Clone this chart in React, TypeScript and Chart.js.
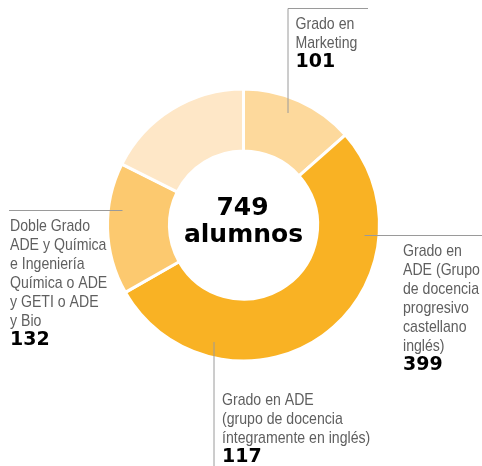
import React, { useEffect, useRef } from "react";
import { Chart, registerables } from "chart.js";

Chart.register(...registerables);

const categories = [
  "Grado en Marketing",
  "Grado en ADE (Grupo de docencia progresivo castellano inglés)",
  "Grado en ADE (grupo de docencia íntegramente en inglés)",
  "Doble Grado ADE y Química e Ingeniería Química o ADE y GETI o ADE y Bio",
];
const values = [101, 399, 117, 132];
const colors = ["#fdd99c", "#f9b224", "#fcc96f", "#fee7c7"];
const totalLabel = ["749", "alumnos"];

const labelLines1 = ["Grado en", "Marketing"];
const labelLines2 = ["Grado en", "ADE (Grupo", "de docencia", "progresivo", "castellano", "inglés)"];
const labelLines3 = ["Grado en ADE", "(grupo de docencia", "íntegramente en inglés)"];
const labelLines4 = ["Doble Grado", "ADE y Química", "e Ingeniería", "Química o ADE", "y GETI o ADE", "y Bio"];
const labelNumbers = ["101", "399", "117", "132"];

const TEXT_FONT = '17px "Liberation Sans", Arial, sans-serif';
const TEXT_SCALE_X = 0.83;
const NUM_FONT = 'bold 19px "DejaVu Sans", sans-serif';
const CENTER_FONT = 'bold 25px "DejaVu Sans", sans-serif';
const LINE_H = 19;

const annotationPlugin = {
  id: "annot",
  afterDraw(chart: any) {
    const ctx = chart.ctx as CanvasRenderingContext2D;
    const arc = chart.getDatasetMeta(0).data[0];
    const cx = arc.x;
    const cy = arc.y;
    ctx.save();
    // leader lines
    ctx.strokeStyle = "#9a9a9a";
    ctx.lineWidth = 1;
    ctx.beginPath();
    // top (Marketing)
    ctx.moveTo(cx + 44.5, cy - 112);
    ctx.lineTo(cx + 44.5, 8.5);
    ctx.lineTo(368, 8.5);
    // right
    ctx.moveTo(cx + 121, cy + 10.5);
    ctx.lineTo(482, cy + 10.5);
    // left
    ctx.moveTo(9, cy - 14.5);
    ctx.lineTo(cx - 121, cy - 14.5);
    // bottom
    ctx.moveTo(cx - 29.5, cy + 117);
    ctx.lineTo(cx - 29.5, 466);
    ctx.stroke();

    const drawBlock = (lines: string[], num: string, x: number, y0: number) => {
      ctx.textAlign = "left";
      ctx.textBaseline = "alphabetic";
      ctx.fillStyle = "#5f5f5f";
      ctx.font = TEXT_FONT;
      lines.forEach((l, i) => {
        ctx.save();
        ctx.translate(x, y0 + i * LINE_H);
        ctx.scale(TEXT_SCALE_X, 1);
        ctx.fillText(l, 0, 0);
        ctx.restore();
      });
      ctx.fillStyle = "#000";
      ctx.font = NUM_FONT;
      ctx.fillText(num, x, y0 + lines.length * LINE_H);
    };
    drawBlock(labelLines1, labelNumbers[0], cx + 52, 29);
    drawBlock(labelLines2, labelNumbers[1], 403, cy + 31);
    drawBlock(labelLines3, labelNumbers[2], cx - 21.5, cy + 180);
    drawBlock(labelLines4, labelNumbers[3], 10, cy + 6);

    // center text
    ctx.fillStyle = "#000";
    ctx.font = CENTER_FONT;
    ctx.textAlign = "center";
    ctx.fillText(totalLabel[0], cx - 1, cy - 10);
    ctx.fillText(totalLabel[1], cx, cy + 17);
    ctx.restore();
  },
};

export default function App() {
  const ref = useRef<HTMLCanvasElement>(null);
  useEffect(() => {
    const chart = new Chart(ref.current!, {
      type: "doughnut",
      data: {
        labels: categories,
        datasets: [
          {
            data: values,
            backgroundColor: colors,
            borderColor: "#ffffff",
            borderWidth: 3,
          },
        ],
      },
      options: {
        responsive: false,
        animation: false,
        cutout: "54.5%",
        layout: { padding: { left: 106, top: 87.5, right: 101, bottom: 103.5 } },
        plugins: { legend: { display: false }, tooltip: { enabled: false } },
      },
      plugins: [annotationPlugin],
    });
    return () => chart.destroy();
  }, []);
  return (
    <div style={{ position: "fixed", left: 0, top: 0, width: 482, height: 466, background: "#fff" }}>
      <canvas ref={ref} width={482} height={466} style={{ width: 482, height: 466 }} />
    </div>
  );
}
